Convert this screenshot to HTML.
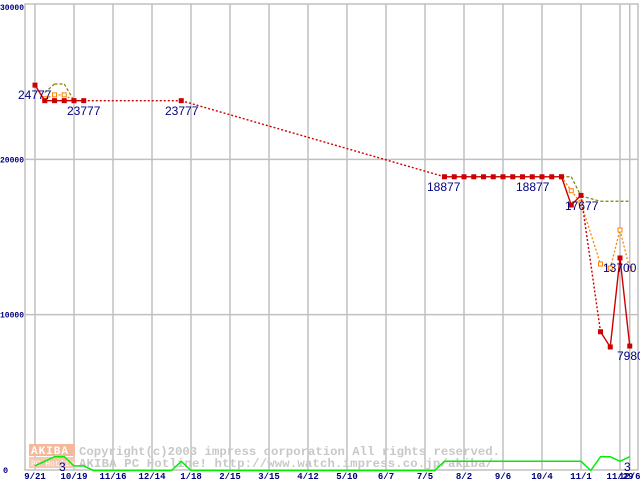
<!DOCTYPE html>
<html><head><meta charset="utf-8"><style>
html,body{margin:0;padding:0;background:#fff;width:640px;height:480px;overflow:hidden}
svg{display:block}
</style></head><body>
<svg id="chart" width="640" height="480" xmlns="http://www.w3.org/2000/svg" font-family="'Liberation Sans',sans-serif">
<g id="grid"></g>
<g id="wm">
 <rect x="29" y="444" width="46" height="12" fill="#f5b89a"/>
 <rect x="29" y="457" width="46" height="11" fill="#f5c8b0"/>
 <text x="31" y="454" font-family="'Liberation Mono',monospace" font-size="11" fill="#fff" font-weight="bold" letter-spacing="1">AKIBA</text>
 <text x="31" y="466" font-family="'Liberation Mono',monospace" font-size="8" fill="#fff">PC Hotline</text>
 <text x="79" y="455" font-family="'Liberation Mono',monospace" font-size="12.3" fill="#c8c8c8" font-weight="bold" textLength="421">Copyright(c)2003 impress corporation All rights reserved.</text>
 <text x="79" y="467" font-family="'Liberation Mono',monospace" font-size="12.3" fill="#c8c8c8" font-weight="bold" textLength="414">AKIBA PC Hotline!  http://www.watch.impress.co.jp/akiba/</text>
</g>
<g id="series"></g>
<g id="labels"></g>
</svg>
<script>
const xTickLabels=["9/21","10/19","11/16","12/14","1/18","2/15","3/15","4/12","5/10","6/7","7/5","8/2","9/6","10/4","11/1","11/29","12/6"];
const xTickIdx=[0,4,8,12,16,20,24,28,32,36,40,44,48,52,56,60,61];
const yTicks=[0,10000,20000,30000];
const redIdx=[0,1,2,3,4,5,15,42,43,44,45,46,47,48,49,50,51,52,53,54,55,56,58,59,60,61];
const redVal=[24777,23777,23777,23777,23777,23777,23777,18877,18877,18877,18877,18877,18877,18877,18877,18877,18877,18877,18877,18877,17060,17677,8900,7920,13650,7980];
const orangeIdx=[1,2,3,4,54,55,56,58,59,60,61];
const orangeVal=[23900,24150,24150,23777,18877,17980,17190,13260,13000,15450,12950];
const oliveIdx=[1,2,3,4,54,55,56,58,61];
const oliveVal=[24300,24850,24850,23777,18877,18877,17640,17300,17300];
const cntIdx=[0,1,2,3,4,5,6,14,15,16,41,42,56,57,58,59,60,61];
const cntVal=[1,2,3,3,1,1,0,0,2,0,0,2,2,0,3,3,2,3];
const pointLabels=[["24777",18,99],["23777",67,115],["23777",165,115],["18877",427,191],["18877",516,191],["17677",565,210],["13700",603,272],["7980",617,360]];

const NS="http://www.w3.org/2000/svg";
const X=i=>35+9.75*i;
const Y=v=>470-v*466/30000;
const C=v=>470.5-v*4.6;
function mk(tag,attrs,parent){const e=document.createElementNS(NS,tag);for(const k in attrs)e.setAttribute(k,attrs[k]);parent.appendChild(e);return e;}
const grid=document.getElementById('grid'),ser=document.getElementById('series'),lab=document.getElementById('labels');
let fr=mk('rect',{x:25,y:4,width:613,height:466,fill:'none',stroke:'#c0c0c0','stroke-width':1.5},grid);


xTickIdx.forEach((ix,k)=>{
 const l=mk('line',{x1:X(ix),x2:X(ix),y1:4,y2:470,stroke:'#c0c0c0','stroke-width':1.5},grid);
 
 
 const t=mk('text',{x:X(ix),y:479,'text-anchor':'middle','font-family':"'Liberation Mono',monospace",'font-size':9,fill:'#000080','font-weight':'bold'},lab);
 t.textContent=xTickLabels[k];
 
 
});
yTicks.forEach(v=>{
 if(v>0&&v<30000){const l=mk('line',{x1:25,x2:638,y1:Y(v),y2:Y(v),stroke:'#c0c0c0','stroke-width':1.5},grid);
 
 }
 const a={x:v?0:3,y:Y(v)+(v===30000?6:3),'font-family':"'Liberation Mono',monospace",'font-size':8.5,fill:'#000080','font-weight':'bold'};
 if(v){a.textLength=24;a.lengthAdjust='spacingAndGlyphs';}
 const t=mk('text',a,lab);
 t.textContent=String(v);
 
 
});
function series(idx,val,color,name,opts){
 for(let k=1;k<idx.length;k++){
  const g=idx[k]-idx[k-1];
  if(opts.maxGap&&g>opts.maxGap)continue;
  const a={x1:X(idx[k-1]),y1:Y(val[k-1]),x2:X(idx[k]),y2:Y(val[k]),stroke:color,'stroke-width':opts.w||1.3};
  if(opts.dash)a['stroke-dasharray']=opts.dash;else if(g>1)a['stroke-dasharray']='2,2';
  const l=mk('line',a,ser);
  
  
 }
 if(opts.marker)idx.forEach((ix,k)=>{
  const r=mk('rect',{x:X(ix)-2,y:Y(val[k])-2,width:4,height:4,fill:opts.hollow?'#fff':color,stroke:color,'stroke-width':1},ser);
  
  
 });
}
series(oliveIdx,oliveVal,'#808000','olive-series',{dash:'3,2',w:1.2,maxGap:5});
series(orangeIdx,orangeVal,'#ff8000','orange-series',{dash:'2,2',marker:true,hollow:true,w:1.3,maxGap:5});
series(redIdx,redVal,'#cc0000','red-series',{marker:true,w:1.4});
let pts=cntIdx.map((ix,k)=>X(ix)+','+C(cntVal[k])).join(' ');
const pl=mk('polyline',{points:pts,fill:'none',stroke:'#00ee00','stroke-width':1.5},ser);


pointLabels.forEach(p=>{
 const t=mk('text',{x:p[1],y:p[2],'font-size':12,fill:'#000080'},lab);
 t.textContent=p[0];
 
 
});
[["3",59,471],["3",624,471]].forEach(p=>{
 const t=mk('text',{x:p[1],y:p[2],'font-size':12,fill:'#000080'},lab);
 t.textContent=p[0];
 
 
});
</script>
</body></html>
